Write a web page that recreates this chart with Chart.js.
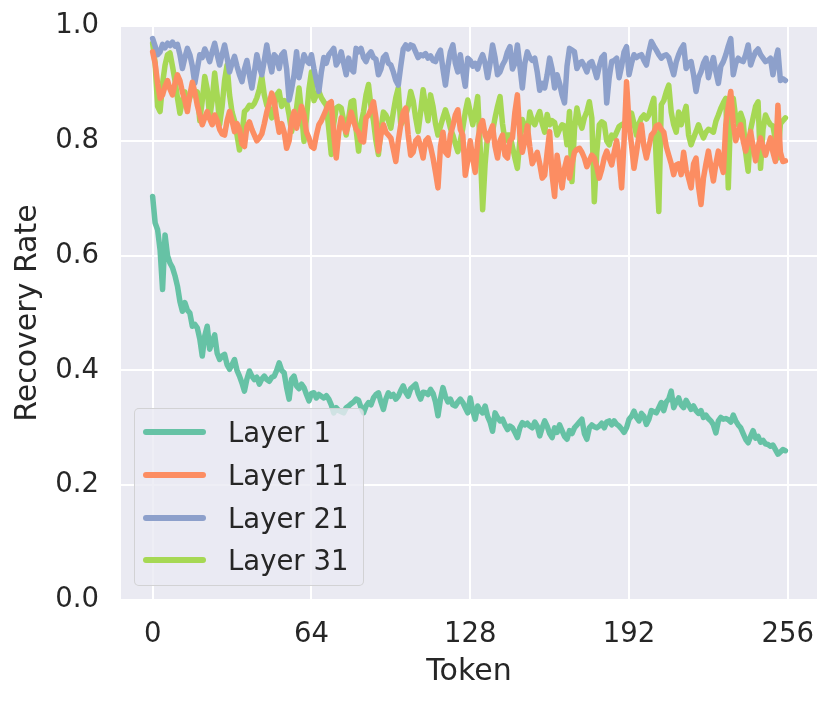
<!DOCTYPE html>
<html>
<head>
<meta charset="utf-8">
<script src="https://cdn.jsdelivr.net/npm/chart.js@4.4.1/dist/chart.umd.min.js"></script>
<style>
  html, body { margin: 0; padding: 0; background: #ffffff; }
  #wrap { position: relative; width: 831px; height: 703px; }
  #legend {
    position: absolute; left: 134px; top: 408px; width: 230px; height: 178px;
    background: rgba(234,234,242,0.8); border: 1.5px solid rgba(204,204,204,0.8);
    border-radius: 5px; box-sizing: border-box;
    font-family: "DejaVu Sans", sans-serif; font-size: 27.5px; color: #262626;
  }
  .item { position: absolute; left: 0; height: 40px; width: 100%; }
  .swatch { position: absolute; left: 8px; width: 63px; height: 6px; border-radius: 3px; top: 17px; }
  .lbl { position: absolute; left: 93px; top: 0; line-height: 40px; white-space: nowrap; }
</style>
</head>
<body>
<div id="wrap">
  <canvas id="c"></canvas>
  <div id="legend"></div>
</div>
<script>
const seriesNames = ["Layer 1", "Layer 11", "Layer 21", "Layer 31"];
const seriesColors = ["#66c2a5", "#fc8d62", "#8da0cb", "#a6d854"];
const xTicks = [0, 64, 128, 192, 256];
const yTicks = [0.0, 0.2, 0.4, 0.6, 0.8, 1.0];
const tokens = Array.from({length: 256}, (_, i) => i);

const layer1 = [
0.703,0.657,0.645,0.610,0.541,0.636,0.600,0.587,0.579,0.565,
0.547,0.520,0.503,0.518,0.505,0.500,0.477,0.480,0.474,0.455,
0.425,0.460,0.477,0.437,0.450,0.462,0.430,0.419,0.425,0.428,
0.410,0.402,0.410,0.419,0.400,0.390,0.378,0.364,0.385,0.399,
0.390,0.384,0.388,0.376,0.385,0.390,0.384,0.381,0.388,0.390,
0.400,0.413,0.400,0.396,0.370,0.350,0.385,0.390,0.373,0.368,
0.376,0.370,0.358,0.347,0.360,0.361,0.352,0.358,0.355,0.352,
0.356,0.350,0.340,0.326,0.335,0.330,0.328,0.326,0.335,0.338,
0.342,0.345,0.350,0.348,0.335,0.326,0.338,0.344,0.340,0.352,
0.358,0.361,0.345,0.332,0.350,0.361,0.355,0.358,0.350,0.355,
0.365,0.373,0.362,0.355,0.368,0.372,0.376,0.360,0.350,0.362,
0.361,0.358,0.367,0.360,0.345,0.321,0.350,0.370,0.355,0.345,
0.350,0.340,0.338,0.345,0.350,0.344,0.335,0.326,0.352,0.330,
0.315,0.338,0.330,0.326,0.338,0.320,0.310,0.294,0.326,0.318,
0.312,0.315,0.305,0.297,0.303,0.300,0.292,0.283,0.300,0.309,
0.305,0.308,0.303,0.300,0.310,0.303,0.286,0.300,0.312,0.303,
0.290,0.283,0.300,0.292,0.305,0.295,0.285,0.280,0.295,0.290,
0.300,0.305,0.310,0.315,0.290,0.280,0.300,0.305,0.302,0.300,
0.303,0.308,0.300,0.310,0.312,0.305,0.312,0.306,0.303,0.298,
0.292,0.300,0.315,0.320,0.329,0.318,0.312,0.325,0.320,0.306,
0.315,0.330,0.328,0.326,0.335,0.344,0.330,0.345,0.350,0.364,
0.335,0.345,0.352,0.340,0.335,0.348,0.340,0.332,0.338,0.330,
0.325,0.330,0.318,0.322,0.316,0.312,0.305,0.291,0.312,0.318,
0.315,0.316,0.314,0.310,0.322,0.312,0.305,0.300,0.290,0.280,
0.274,0.285,0.295,0.282,0.285,0.275,0.278,0.272,0.271,0.268,
0.270,0.262,0.254,0.258,0.262,0.260];

const layer11 = [
0.955,0.935,0.900,0.874,0.880,0.895,0.905,0.890,0.880,0.900,
0.915,0.905,0.885,0.870,0.851,0.880,0.902,0.885,0.862,0.845,
0.828,0.840,0.851,0.838,0.828,0.845,0.835,0.820,0.812,0.810,
0.835,0.851,0.835,0.816,0.830,0.820,0.795,0.790,0.825,0.833,
0.820,0.810,0.800,0.805,0.812,0.830,0.850,0.865,0.883,0.870,
0.840,0.815,0.830,0.815,0.787,0.800,0.835,0.851,0.822,0.840,
0.860,0.845,0.815,0.805,0.790,0.787,0.810,0.828,0.835,0.845,
0.855,0.865,0.868,0.810,0.770,0.815,0.840,0.825,0.815,0.830,
0.850,0.835,0.820,0.815,0.800,0.798,0.840,0.845,0.855,0.868,
0.840,0.782,0.810,0.828,0.815,0.810,0.805,0.785,0.764,0.800,
0.828,0.850,0.857,0.810,0.775,0.780,0.800,0.805,0.790,0.770,
0.800,0.805,0.790,0.770,0.745,0.718,0.790,0.815,0.780,0.775,
0.810,0.826,0.845,0.854,0.820,0.810,0.740,0.765,0.800,0.770,
0.745,0.800,0.826,0.835,0.810,0.800,0.815,0.826,0.790,0.770,
0.800,0.810,0.775,0.770,0.800,0.805,0.850,0.880,0.810,0.780,
0.800,0.826,0.790,0.760,0.770,0.780,0.760,0.735,0.740,0.780,
0.816,0.740,0.703,0.775,0.745,0.718,0.752,0.770,0.735,0.760,
0.780,0.785,0.787,0.780,0.770,0.755,0.765,0.775,0.770,0.755,
0.735,0.750,0.770,0.782,0.770,0.758,0.780,0.800,0.770,0.718,
0.800,0.903,0.830,0.793,0.752,0.780,0.810,0.828,0.790,0.770,
0.790,0.810,0.815,0.826,0.828,0.820,0.815,0.790,0.775,0.760,
0.741,0.758,0.760,0.741,0.780,0.750,0.735,0.718,0.760,0.770,
0.720,0.689,0.735,0.760,0.782,0.755,0.730,0.760,0.782,0.760,
0.745,0.828,0.860,0.886,0.830,0.800,0.815,0.828,0.800,0.782,
0.800,0.816,0.790,0.765,0.790,0.805,0.790,0.775,0.790,0.805,
0.780,0.764,0.862,0.780,0.764,0.765];

const layer21 = [
0.978,0.965,0.950,0.955,0.968,0.962,0.970,0.966,0.972,0.965,
0.968,0.950,0.926,0.945,0.961,0.950,0.930,0.900,0.925,0.950,
0.945,0.960,0.950,0.938,0.955,0.970,0.950,0.932,0.950,0.967,
0.945,0.920,0.935,0.947,0.930,0.915,0.903,0.925,0.940,0.915,
0.892,0.920,0.950,0.930,0.915,0.940,0.967,0.940,0.920,0.950,
0.945,0.926,0.950,0.955,0.925,0.871,0.890,0.915,0.955,0.910,
0.930,0.950,0.940,0.935,0.950,0.926,0.905,0.886,0.920,0.945,
0.935,0.950,0.955,0.961,0.932,0.940,0.955,0.935,0.915,0.944,
0.925,0.920,0.961,0.955,0.961,0.945,0.938,0.950,0.955,0.945,
0.942,0.915,0.925,0.945,0.950,0.935,0.932,0.920,0.905,0.897,
0.930,0.960,0.967,0.960,0.967,0.965,0.955,0.945,0.950,0.948,
0.952,0.944,0.948,0.940,0.938,0.950,0.958,0.925,0.897,0.930,
0.955,0.967,0.935,0.920,0.950,0.920,0.895,0.944,0.940,0.930,
0.935,0.925,0.940,0.950,0.935,0.910,0.935,0.967,0.945,0.915,
0.920,0.932,0.940,0.955,0.964,0.925,0.935,0.967,0.930,0.892,
0.935,0.955,0.945,0.940,0.944,0.920,0.888,0.900,0.892,0.915,
0.944,0.925,0.892,0.915,0.900,0.880,0.866,0.930,0.961,0.958,
0.955,0.926,0.935,0.938,0.930,0.920,0.935,0.938,0.925,0.910,
0.930,0.945,0.950,0.866,0.910,0.938,0.940,0.944,0.910,0.930,
0.955,0.964,0.915,0.935,0.950,0.945,0.948,0.950,0.940,0.932,
0.955,0.973,0.965,0.958,0.950,0.944,0.948,0.950,0.945,0.930,
0.915,0.937,0.950,0.960,0.967,0.926,0.935,0.938,0.915,0.886,
0.910,0.920,0.935,0.944,0.910,0.930,0.945,0.920,0.900,0.930,
0.938,0.950,0.965,0.978,0.915,0.935,0.944,0.940,0.938,0.950,
0.967,0.932,0.945,0.955,0.960,0.950,0.944,0.938,0.940,0.944,
0.915,0.940,0.958,0.905,0.908,0.905];

const layer31 = [
0.970,0.935,0.860,0.851,0.900,0.932,0.950,0.953,0.930,0.905,
0.875,0.848,0.870,0.885,0.862,0.875,0.890,0.880,0.885,0.835,
0.870,0.912,0.890,0.840,0.870,0.918,0.880,0.828,0.860,0.905,
0.932,0.880,0.850,0.835,0.810,0.784,0.810,0.851,0.855,0.862,
0.860,0.865,0.875,0.890,0.912,0.880,0.862,0.855,0.840,0.860,
0.880,0.886,0.860,0.870,0.868,0.845,0.816,0.838,0.857,0.892,
0.850,0.799,0.840,0.890,0.920,0.870,0.880,0.886,0.875,0.868,
0.862,0.820,0.776,0.830,0.857,0.860,0.857,0.835,0.810,0.840,
0.868,0.870,0.820,0.782,0.830,0.851,0.880,0.898,0.860,0.835,
0.800,0.776,0.820,0.850,0.845,0.835,0.822,0.850,0.875,0.892,
0.828,0.835,0.845,0.860,0.886,0.870,0.840,0.816,0.850,0.889,
0.860,0.835,0.880,0.860,0.830,0.810,0.825,0.840,0.854,0.840,
0.822,0.810,0.795,0.781,0.800,0.822,0.850,0.871,0.850,0.828,
0.850,0.877,0.790,0.680,0.760,0.810,0.815,0.816,0.840,0.860,
0.877,0.830,0.800,0.810,0.810,0.790,0.770,0.752,0.800,0.837,
0.825,0.810,0.850,0.835,0.828,0.840,0.851,0.830,0.815,0.846,
0.828,0.835,0.832,0.810,0.820,0.828,0.826,0.793,0.851,0.729,
0.820,0.857,0.835,0.822,0.840,0.851,0.868,0.840,0.694,0.780,
0.828,0.833,0.830,0.800,0.793,0.810,0.805,0.815,0.825,0.828,
0.830,0.828,0.840,0.848,0.830,0.810,0.830,0.840,0.845,0.838,
0.845,0.860,0.874,0.760,0.677,0.863,0.870,0.885,0.897,0.850,
0.828,0.815,0.850,0.828,0.845,0.860,0.810,0.793,0.805,0.816,
0.828,0.815,0.805,0.815,0.820,0.818,0.815,0.834,0.845,0.857,
0.866,0.874,0.718,0.860,0.874,0.840,0.828,0.848,0.835,0.780,
0.747,0.820,0.840,0.860,0.868,0.752,0.820,0.845,0.835,0.828,
0.826,0.800,0.770,0.830,0.835,0.840];

const seriesValues = [layer1, layer11, layer21, layer31];

const TEXT = "#262626";
const FONT = "DejaVu Sans";

const bgPlugin = {
  id: "axesBg",
  beforeDraw(chart) {
    const {ctx, chartArea: a} = chart;
    ctx.save();
    ctx.fillStyle = "#eaeaf2";
    ctx.fillRect(a.left, a.top, a.right - a.left, a.bottom - a.top);
    ctx.restore();
  }
};

const datasets = seriesNames.map((name, k) => ({
  label: name,
  data: tokens.map((t, i) => ({x: t, y: seriesValues[k][i]})),
  borderColor: seriesColors[k],
  backgroundColor: seriesColors[k],
  borderWidth: 5.5,
  pointRadius: 0,
  tension: 0,
  borderJoinStyle: "round",
  borderCapStyle: "round",
  fill: false
}));

new Chart(document.getElementById("c"), {
  type: "line",
  data: { datasets },
  plugins: [bgPlugin],
  options: {
    responsive: true,
    maintainAspectRatio: false,
    animation: false,
    layout: { padding: { left: 0, right: 14, top: 26, bottom: 0 } },
    plugins: { legend: { display: false }, tooltip: { enabled: false } },
    scales: {
      x: {
        type: "linear",
        min: -12.75, max: 267.75,
        afterBuildTicks: s => { s.ticks = xTicks.map(v => ({value: v})); },
        afterFit: s => { s.height = 103; s.paddingLeft = 0; s.paddingRight = 0; },
        grid: { color: "#ffffff", lineWidth: 2, drawTicks: false },
        border: { display: false },
        ticks: { color: TEXT, font: { family: FONT, size: 27.5 }, padding: 18, maxRotation: 0,
                 callback: v => String(v) },
        title: { display: true, text: "Token", color: TEXT, font: { family: FONT, size: 30 }, padding: { top: 0, bottom: 13 } }
      },
      y: {
        type: "linear",
        min: 0, max: 1,
        afterBuildTicks: s => { s.ticks = yTicks.map(v => ({value: v})); },
        afterFit: s => { s.width = 121; s.paddingTop = 0; s.paddingBottom = 0; },
        grid: { color: "#ffffff", lineWidth: 2, drawTicks: false },
        border: { display: false },
        ticks: { color: TEXT, font: { family: FONT, size: 27.5 }, padding: 22,
                 callback: v => Number(v).toFixed(1) },
        title: { display: true, text: "Recovery Rate", color: TEXT, font: { family: FONT, size: 30 }, padding: { top: 10, bottom: 0 } }
      }
    }
  }
});

const leg = document.getElementById("legend");
const rowCenters = [23, 66, 109, 151];
seriesNames.forEach((name, k) => {
  const item = document.createElement("div");
  item.className = "item";
  item.style.top = (rowCenters[k] - 20) + "px";
  const sw = document.createElement("div");
  sw.className = "swatch";
  sw.style.background = seriesColors[k];
  const lb = document.createElement("div");
  lb.className = "lbl";
  lb.textContent = name;
  item.appendChild(sw); item.appendChild(lb);
  leg.appendChild(item);
});
</script>
</body>
</html>
